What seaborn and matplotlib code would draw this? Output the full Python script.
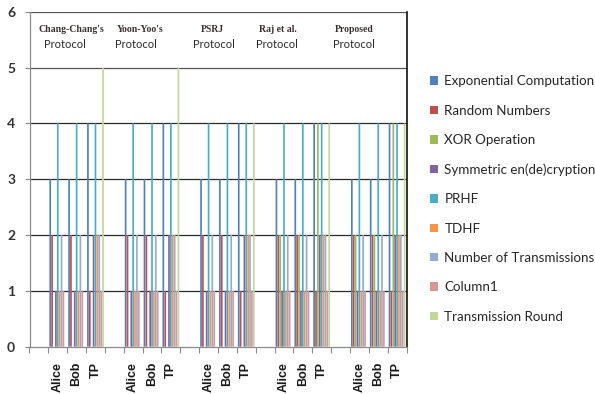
import matplotlib
matplotlib.use("Agg")
import matplotlib.pyplot as plt
import seaborn as sns
import pandas as pd
from matplotlib.ticker import FixedLocator

# ---- data -------------------------------------------------------------
protocols = ["Chang-Chang's", "Yoon-Yoo's", "PSRJ", "Raj et al.", "Proposed"]
participants = ["Alice", "Bob", "TP"]
series = ["Exponential Computation", "Random Numbers", "XOR Operation",
          "Symmetric en(de)cryption", "PRHF", "TDHF",
          "Number of Transmissions", "Column1", "Transmission Round"]

# values listed protocol by protocol as (Alice, Bob, TP)
exponential = [3, 3, 4,  3, 3, 4,  3, 3, 4,  3, 3, 4,  3, 3, 4]
random_nums = [2, 2, 1,  2, 2, 1,  2, 2, 1,  2, 2, 1,  2, 2, 1]
xor_ops     = [0, 0, 0,  0, 0, 0,  0, 0, 0,  2, 2, 4,  2, 2, 4]
symmetric   = [1, 1, 2,  1, 1, 2,  1, 1, 2,  1, 1, 2,  1, 1, 2]
prhf        = [4, 4, 4,  4, 4, 4,  4, 4, 4,  4, 4, 4,  4, 4, 4]
tdhf        = [1, 1, 2,  1, 1, 2,  1, 1, 2,  1, 1, 2,  1, 1, 2]
n_transm    = [2, 2, 2,  2, 2, 2,  2, 2, 2,  2, 2, 2,  2, 2, 2]
column1     = [1, 1, 1,  1, 1, 1,  1, 1, 1,  1, 1, 1,  1, 1, 1]
trans_round = [0, 0, 5,  0, 0, 5,  0, 0, 4,  0, 0, 4,  0, 0, 4]

palette = ["#4F81BD", "#C0504D", "#9BBB59", "#8064A2", "#4BACC6",
           "#F79646", "#95ABD6", "#D99694", "#C3D69B"]

all_values = [exponential, random_nums, xor_ops, symmetric, prhf, tdhf,
              n_transm, column1, trans_round]

# category order: an empty slot before every protocol group
order, tick_pos, tick_lab = [], [], []
rows = []
for p_i, proto in enumerate(protocols):
    order.append(f"gap{p_i}")
    for q_i, part in enumerate(participants):
        key = f"{proto}|{part}"
        tick_pos.append(len(order))
        tick_lab.append(part)
        order.append(key)
        for s_name, vals in zip(series, all_values):
            rows.append({"cat": key, "series": s_name,
                         "value": vals[p_i * 3 + q_i]})
df = pd.DataFrame(rows)

# ---- figure -----------------------------------------------------------
sns.set_theme(style="white")
plt.rcParams["font.family"] = ["Lato", "DejaVu Sans"]

W, H = 595, 394
fig = plt.figure(figsize=(W / 100, H / 100), dpi=100)
ax = fig.add_axes([29.5 / W, 1 - 346.7 / H, 377 / W, 335 / H])

sns.barplot(data=df, x="cat", y="value", hue="series", order=order,
            hue_order=series, palette=palette, width=0.9, gap=0.1,
            saturation=1, linewidth=0, errorbar=None, ax=ax, legend=True)

# thin bars: keep sub-pixel widths instead of snapping to the pixel grid
for patch in ax.patches:
    patch.set_snap(False)

ax.set_xlim(-0.5, len(order) - 0.5)
ax.set_ylim(0, 6)
ax.set_xlabel("")
ax.set_ylabel("")

# gridlines
for y in range(1, 7):
    ax.axhline(y, color="#2a2a2a" if y < 5 else "#555555", lw=0.9, zorder=0)

# axes frame
for side in ("left", "bottom"):
    ax.spines[side].set_color("#8c8c8c")
    ax.spines[side].set_linewidth(0.9)
ax.spines["top"].set_visible(False)
ax.spines["right"].set_color("#111111")
ax.spines["right"].set_linewidth(1.2)

# x ticks: labels at participants, marks at category boundaries
ax.set_xticks(tick_pos)
ax.set_xticklabels(tick_lab, rotation=90, fontweight="bold", fontsize=9,
                   color="#1a1a1a", family=["Liberation Sans", "DejaVu Sans"])
ax.tick_params(axis="x", which="major", length=0, pad=11)
ax.xaxis.set_minor_locator(FixedLocator([i - 0.5 for i in range(len(order) + 1)]))
ax.tick_params(axis="x", which="minor", length=4.5, width=0.8,
               color="#8c8c8c", bottom=True)

ax.set_yticks(range(0, 7))
ax.set_yticklabels([str(v) for v in range(0, 7)], fontweight="bold",
                   fontsize=10, color="#333333")
ax.tick_params(axis="y", length=3.3, width=0.8, color="#8c8c8c", pad=7, left=True)

# protocol captions in the top band
def px_to_data(xp, yp):
    xd = (xp - 29.5) / 18.85 - 0.5
    yd = (346.7 - yp) / (335 / 6)
    return xd, yd

captions = [("Chang-Chang's", 71.7, 64.7), ("Yoon-Yoo's", 139.7, 135.7),
            ("PSRJ", 212.0, 213.7), ("Raj et al.", 278.0, 276.7),
            ("Proposed", 354.0, 354.3)]
for name, x1, x2 in captions:
    xd, yd = px_to_data(x1, 30)
    ax.text(xd, yd, name, ha="center", va="center", fontsize=7,
            family=["Liberation Serif", "DejaVu Serif"], fontweight="bold",
            color="#3a3030")
    xd, yd = px_to_data(x2, 44.5)
    ax.text(xd, yd, "Protocol", ha="center", va="center", fontsize=8,
            color="#2a2a2a")

# legend to the right
handles, labels = ax.get_legend_handles_labels()
ax.get_legend().remove()
fig.legend(handles, labels, loc="upper left",
           bbox_to_anchor=(425 / W, 1 - 70 / H), frameon=False,
           fontsize=9.6, handlelength=0.6, handleheight=0.6,
           handletextpad=0.45, labelspacing=1.3, borderaxespad=0,
           labelcolor="#262626")

fig.savefig("out.png", dpi=100)
